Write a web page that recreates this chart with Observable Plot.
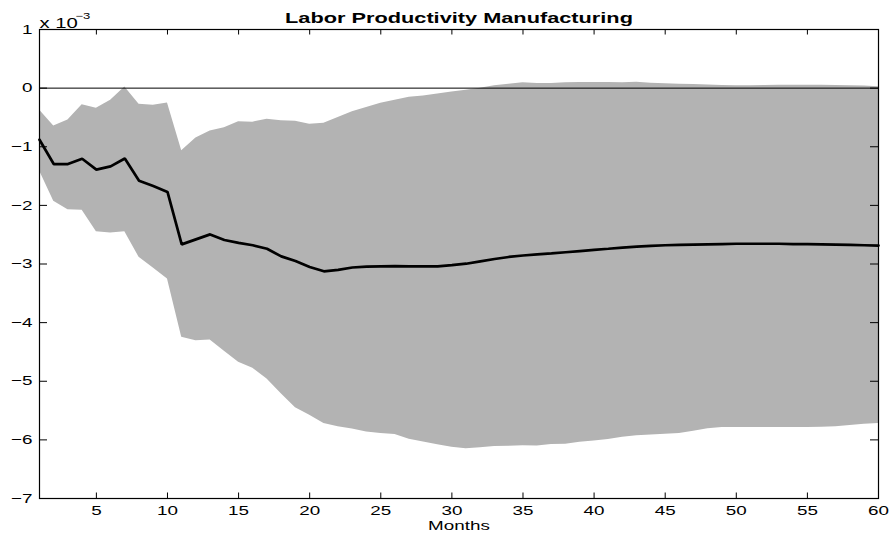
<!DOCTYPE html>
<html>
<head>
<meta charset="utf-8">
<script src="https://cdn.jsdelivr.net/npm/d3@7"></script>
<script src="https://cdn.jsdelivr.net/npm/@observablehq/plot@0.6"></script>
<style>
  html, body { margin: 0; padding: 0; background: #fff; }
  #chart svg { display: block; font-family: "Liberation Sans", Arial, Helvetica, sans-serif; }
</style>
</head>
<body>
<div id="chart"></div>
<script>
// Impulse response of manufacturing labor productivity (units of 10^-3)
const months = d3.range(1, 61);

const meanResponse = [
  -0.88, -1.295, -1.295, -1.205, -1.39, -1.335, -1.20, -1.58, -1.67, -1.77,
  -2.665, -2.58, -2.495, -2.59, -2.64, -2.68, -2.74, -2.87, -2.95, -3.05,
  -3.125, -3.10, -3.06, -3.045, -3.04, -3.035, -3.04, -3.04, -3.04, -3.02,
  -2.995, -2.955, -2.915, -2.88, -2.855, -2.835, -2.82, -2.80, -2.78, -2.76,
  -2.74, -2.72, -2.705, -2.69, -2.68, -2.675, -2.67, -2.665, -2.66, -2.655,
  -2.655, -2.655, -2.655, -2.66, -2.66, -2.665, -2.67, -2.675, -2.68, -2.685
];

const upperBand = [
  -0.375, -0.645, -0.545, -0.285, -0.345, -0.205, 0.02, -0.275, -0.29, -0.255,
  -1.07, -0.85, -0.73, -0.675, -0.575, -0.58, -0.53, -0.555, -0.565, -0.615,
  -0.60, -0.50, -0.405, -0.33, -0.26, -0.205, -0.155, -0.135, -0.10, -0.065,
  -0.035, 0.0, 0.04, 0.068, 0.09, 0.08, 0.08, 0.09, 0.095, 0.095,
  0.095, 0.09, 0.10, 0.085, 0.075, 0.065, 0.06, 0.055, 0.045, 0.04,
  0.04, 0.045, 0.05, 0.05, 0.05, 0.05, 0.045, 0.04, 0.035, 0.025
];

const lowerBand = [
  -1.41, -1.93, -2.075, -2.085, -2.45, -2.47, -2.45, -2.885, -3.07, -3.255,
  -4.25, -4.31, -4.295, -4.49, -4.675, -4.78, -4.96, -5.215, -5.45, -5.58,
  -5.72, -5.775, -5.815, -5.865, -5.89, -5.91, -5.99, -6.035, -6.085, -6.125,
  -6.15, -6.135, -6.115, -6.11, -6.10, -6.105, -6.08, -6.075, -6.04, -6.02,
  -5.995, -5.955, -5.93, -5.915, -5.905, -5.89, -5.855, -5.81, -5.79, -5.79,
  -5.79, -5.79, -5.79, -5.79, -5.79, -5.785, -5.775, -5.755, -5.735, -5.72
];

const xTicks = [5, 10, 15, 20, 25, 30, 35, 40, 45, 50, 55, 60];
const yTicks = [-7, -6, -5, -4, -3, -2, -1, 0, 1];

const titleText = "Labor Productivity Manufacturing";
const xLabel = "Months";
const scaleBase = "x 10";
const scaleExp = "\u22123";

const rows = months.map((m, i) => ({ month: m, mean: meanResponse[i], lo: lowerBand[i], hi: upperBand[i] }));

const W = 891, H = 536;
const mL = 39, mR = 13, mT = 29, mB = 38;
const innerW = W - mL - mR, innerH = H - mT - mB;

const chart = Plot.plot({
  width: W,
  height: H,
  marginLeft: mL,
  marginRight: mR,
  marginTop: mT,
  marginBottom: mB,
  style: { fontFamily: "Liberation Sans, Arial, sans-serif", fontSize: "13px", color: "#000", background: "#fff" },
  x: { domain: [1, 60] },
  y: { domain: [-7, 1] },
  marks: [
    Plot.areaY(rows, { x: "month", y1: "lo", y2: "hi", fill: "#b3b3b3", curve: "linear" }),
    Plot.ruleY([0], { stroke: "#000", strokeWidth: 1 }),
    Plot.lineY(rows, { x: "month", y: "mean", stroke: "#000", strokeWidth: 2.7, strokeLinejoin: "miter" }),
    // inward ticks on all four sides of the box
    Plot.tickX(xTicks, { x: d => d, stroke: "#000", insetTop: innerH - 5.5 }),
    Plot.tickX(xTicks, { x: d => d, stroke: "#000", insetBottom: innerH - 5.5 }),
    Plot.tickY(yTicks, { y: d => d, stroke: "#000", insetRight: innerW - 8 }),
    Plot.tickY(yTicks, { y: d => d, stroke: "#000", insetLeft: innerW - 8 }),
    Plot.frame({ stroke: "#000", strokeWidth: 1.2 }),
    Plot.axisX(xTicks, { tickSize: 0, tickPadding: 7, fontSize: 13, label: null }),
    Plot.axisY(yTicks, { tickSize: 0, tickPadding: 7, fontSize: 13, label: null, tickFormat: d => d < 0 ? "\u2212" + Math.abs(d) : String(d) }),
    Plot.text([xLabel], { frameAnchor: "bottom", dy: 27, fontSize: 13, lineAnchor: "middle" }),
    Plot.text([titleText], { frameAnchor: "top", dy: -17, fontSize: 15, fontWeight: "bold" }),
    Plot.text([scaleBase], { frameAnchor: "top-left", textAnchor: "start", dy: -11, fontSize: 14 }),
    Plot.text([scaleExp], { frameAnchor: "top-left", textAnchor: "start", dx: 36, dy: -17, fontSize: 9 })
  ]
});

// widen the lettering horizontally around each text's own anchor
chart.querySelectorAll("text").forEach(t => {
  const tr = t.getAttribute("transform");
  if (tr) t.setAttribute("transform", tr + " scale(1.45,1)");
});

document.getElementById("chart").appendChild(chart);
</script>
</body>
</html>
